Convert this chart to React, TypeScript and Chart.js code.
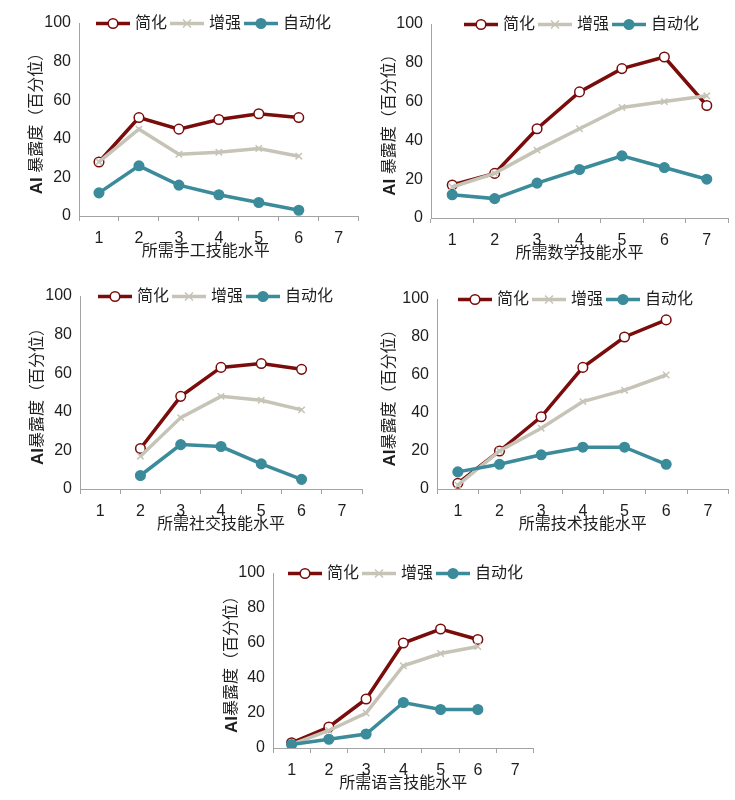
import { useEffect, useRef } from "react";
import { Chart, registerables } from "chart.js";

Chart.register(...registerables);

const levels = ["1", "2", "3", "4", "5", "6", "7"];
const seriesNames = ["简化", "增强", "自动化"];
const yTicks = [0, 20, 40, 60, 80, 100];

const manualSimplify = [28, 51, 45, 50, 53, 51, null];
const manualAugment = [28, 45, 32, 33, 35, 31, null];
const manualAutomate = [12, 26, 16, 11, 7, 3, null];

const mathSimplify = [17, 23, 46, 65, 77, 83, 58];
const mathAugment = [16, 23, 35, 46, 57, 60, 63];
const mathAutomate = [12, 10, 18, 25, 32, 26, 20];

const socialSimplify = [null, 21, 48, 63, 65, 62, null];
const socialAugment = [null, 17, 37, 48, 46, 41, null];
const socialAutomate = [null, 7, 23, 22, 13, 5, null];

const techSimplify = [3, 20, 38, 64, 80, 89, null];
const techAugment = [2, 20, 32, 46, 52, 60, null];
const techAutomate = [9, 13, 18, 22, 22, 13, null];

const langSimplify = [3, 12, 28, 60, 68, 62, null];
const langAugment = [2, 10, 20, 47, 54, 58, null];
const langAutomate = [2, 5, 8, 26, 22, 22, null];

const FONT = '"Liberation Sans", "Noto Sans CJK SC", sans-serif';
const RED = "#7a0c0c";
const GREY = "#c6c4b6";
const TEAL = "#3b8b9b";
const AXIS = "#a3a3a3";
const TEXT = "#1e1e1e";

type Marker = "open" | "cross" | "dot";
const markers: Marker[] = ["open", "cross", "dot"];
const colors = [RED, GREY, TEAL];

function drawMarker(ctx: CanvasRenderingContext2D, kind: Marker, x: number, y: number, color: string) {
  ctx.save();
  ctx.strokeStyle = color;
  if (kind === "cross") {
    const r = 4;
    ctx.lineWidth = 1.5;
    ctx.beginPath();
    ctx.moveTo(x - r, y - r);
    ctx.lineTo(x + r, y + r);
    ctx.moveTo(x + r, y - r);
    ctx.lineTo(x - r, y + r);
    ctx.stroke();
  } else {
    ctx.beginPath();
    ctx.arc(x, y, 4.8, 0, Math.PI * 2);
    ctx.fillStyle = kind === "open" ? "#ffffff" : color;
    ctx.fill();
    ctx.lineWidth = 1.5;
    ctx.stroke();
  }
  ctx.restore();
}

const decor = {
  id: "decor",
  afterDraw(chart: any, _args: any, opts: any) {
    const ctx: CanvasRenderingContext2D = chart.ctx;
    const area = chart.chartArea;

    // legend sitting on the 100 line
    ctx.save();
    ctx.font = `16px ${FONT}`;
    ctx.textBaseline = "middle";
    let x = area.left + opts.legendDx;
    const y = area.top + 0.5;
    seriesNames.forEach((name, i) => {
      ctx.strokeStyle = colors[i];
      ctx.lineWidth = 3.5;
      ctx.beginPath();
      ctx.moveTo(x, y);
      ctx.lineTo(x + 34, y);
      ctx.stroke();
      drawMarker(ctx, markers[i], x + 17, y, colors[i]);
      ctx.fillStyle = TEXT;
      ctx.textAlign = "left";
      ctx.fillText(name, x + 39, y);
      x += 39 + ctx.measureText(name).width + 3;
    });
    ctx.restore();

    // x title
    ctx.save();
    ctx.font = `16px ${FONT}`;
    ctx.fillStyle = TEXT;
    ctx.textAlign = "center";
    ctx.textBaseline = "middle";
    ctx.fillText(opts.xTitle, (area.left + area.right) / 2 + (opts.xTitleDx || 0), area.bottom + 36);
    ctx.restore();

    // y title, bold "AI" then the rest
    ctx.save();
    ctx.translate(area.left + opts.yTitleDx, (area.top + area.bottom) / 2);
    ctx.rotate(-Math.PI / 2);
    ctx.textBaseline = "middle";
    ctx.textAlign = "left";
    ctx.fillStyle = TEXT;
    ctx.font = `bold 17px ${FONT}`;
    const wBold = ctx.measureText("AI").width;
    ctx.font = `16px ${FONT}`;
    const wRest = ctx.measureText(opts.yTitleRest).width;
    const start = -(wBold + wRest) / 2;
    ctx.font = `bold 17px ${FONT}`;
    ctx.fillText("AI", start, 0);
    ctx.font = `16px ${FONT}`;
    ctx.fillText(opts.yTitleRest, start + wBold, 0);
    ctx.restore();
  },
};

type Panel = {
  left: number;
  top: number;
  width: number;
  height: number;
  area: { left: number; right: number; top: number; bottom: number };
  series: (number | null)[][];
  xTitle: string;
  xTitleDx?: number;
  yTitleRest: string;
  yTitleDx: number;
  legendDx: number;
};

function LinePanel({ p }: { p: Panel }) {
  const canvasRef = useRef<HTMLCanvasElement | null>(null);

  useEffect(() => {
    if (!canvasRef.current) {
      return;
    }

    const chart = new Chart(canvasRef.current, {
      type: "line",
      data: {
        labels: levels,
        datasets: p.series.map((values, i) => ({
          label: seriesNames[i],
          data: values,
          borderColor: colors[i],
          borderWidth: 3.5,
          pointStyle: markers[i] === "cross" ? "crossRot" : "circle",
          pointRadius: markers[i] === "cross" ? 4.5 : 4.8,
          pointBorderWidth: 1.5,
          pointBorderColor: colors[i],
          pointBackgroundColor: markers[i] === "open" ? "#ffffff" : colors[i],
          tension: 0,
          order: 3 - i,
        })),
      },
      plugins: [decor],
      options: {
        responsive: false,
        animation: false,
        layout: {
          padding: {
            left: 0,
            top: p.area.top,
            right: p.width - p.area.right,
            bottom: 0,
          },
        },
        scales: {
          x: {
            type: "category",
            offset: true,
            afterFit: (scale: any) => {
              scale.height = p.height - p.area.bottom;
            },
            grid: {
              offset: true,
              drawOnChartArea: false,
              drawTicks: true,
              tickLength: 5,
              color: AXIS,
            },
            border: { color: AXIS, width: 1 },
            ticks: {
              color: TEXT,
              padding: 8,
              maxRotation: 0,
              font: { family: FONT, size: 16 },
            },
          },
          y: {
            min: 0,
            max: 100,
            afterFit: (scale: any) => {
              scale.width = p.area.left;
            },
            afterBuildTicks: (scale: any) => {
              scale.ticks = yTicks.map((v) => ({ value: v }));
            },
            grid: { drawOnChartArea: false, drawTicks: false },
            border: { color: AXIS, width: 1 },
            ticks: {
              color: TEXT,
              padding: 8,
              font: { family: FONT, size: 16 },
            },
          },
        },
        plugins: {
          legend: { display: false },
          tooltip: { enabled: false },
          decor: {
            xTitle: p.xTitle,
            xTitleDx: p.xTitleDx,
            yTitleRest: p.yTitleRest,
            yTitleDx: p.yTitleDx,
            legendDx: p.legendDx,
          },
        } as any,
      },
    });

    return () => chart.destroy();
  }, [p]);

  return (
    <div style={{ position: "absolute", left: p.left, top: p.top, width: p.width, height: p.height }}>
      <canvas ref={canvasRef} width={p.width} height={p.height} />
    </div>
  );
}

const panels: Panel[] = [
  {
    left: 0, top: 0, width: 365, height: 270,
    area: { left: 79, right: 360, top: 23, bottom: 216 },
    series: [manualSimplify, manualAugment, manualAutomate],
    xTitle: "所需手工技能水平", xTitleDx: -13,
    yTitleRest: " 暴露度（百分位）", yTitleDx: -42, legendDx: 17,
  },
  {
    left: 370, top: 0, width: 365, height: 270,
    area: { left: 61, right: 358, top: 24, bottom: 218 },
    series: [mathSimplify, mathAugment, mathAutomate],
    xTitle: "所需数学技能水平",
    yTitleRest: " 暴露度（百分位）", yTitleDx: -41, legendDx: 33,
  },
  {
    left: 0, top: 275, width: 370, height: 265,
    area: { left: 80, right: 362, top: 21, bottom: 214 },
    series: [socialSimplify, socialAugment, socialAutomate],
    xTitle: "所需社交技能水平",
    yTitleRest: "暴露度（百分位）", yTitleDx: -42, legendDx: 18,
  },
  {
    left: 370, top: 275, width: 365, height: 265,
    area: { left: 67, right: 359, top: 24, bottom: 214 },
    series: [techSimplify, techAugment, techAutomate],
    xTitle: "所需技术技能水平",
    yTitleRest: "暴露度（百分位）", yTitleDx: -47, legendDx: 21,
  },
  {
    left: 200, top: 550, width: 340, height: 250,
    area: { left: 73, right: 339, top: 23, bottom: 198 },
    series: [langSimplify, langAugment, langAutomate],
    xTitle: "所需语言技能水平",
    yTitleRest: "暴露度（百分位）", yTitleDx: -41, legendDx: 15,
  },
];

export default function App() {
  return (
    <div style={{ position: "absolute", left: 0, top: 0, width: 735, height: 800, background: "#ffffff" }}>
      {panels.map((p, i) => (
        <LinePanel key={i} p={p} />
      ))}
    </div>
  );
}
